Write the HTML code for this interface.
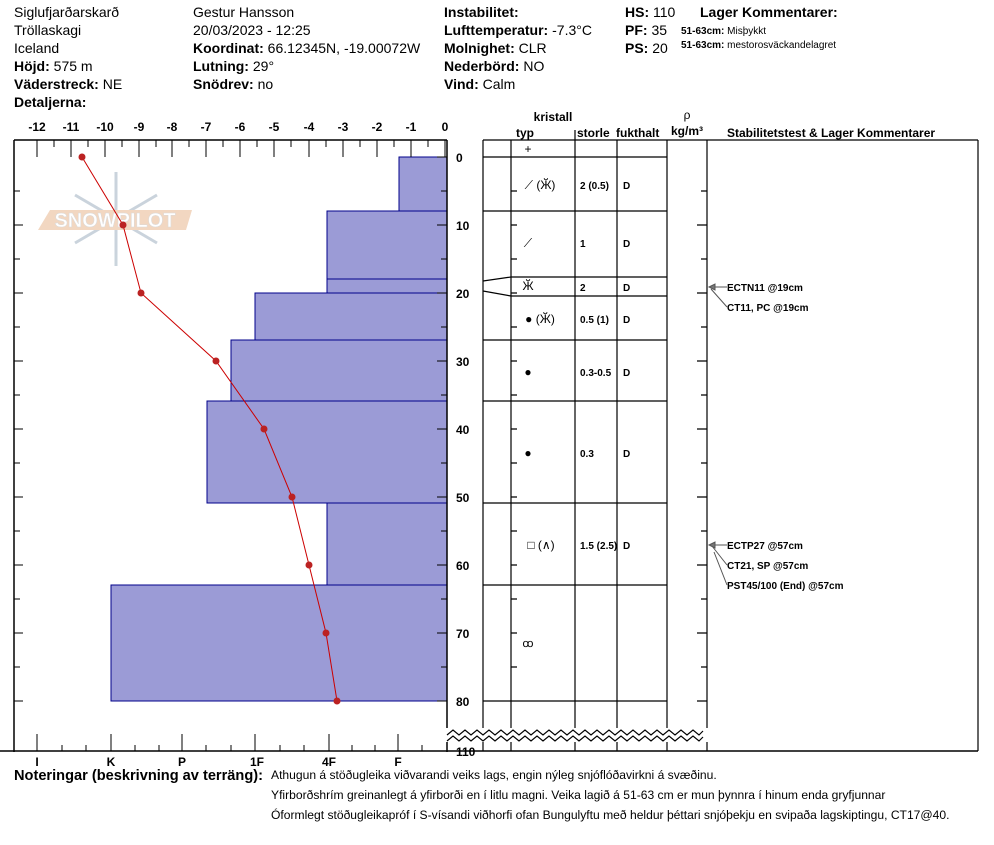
<!DOCTYPE html>
<html><head><meta charset="utf-8"><style>
body{margin:0;background:#fff;width:994px;height:840px;overflow:hidden}
svg{font-family:"Liberation Sans",Arial,sans-serif}
.h{font-size:14px}
.b{font-weight:bold}
.t{font-size:12px;font-weight:bold}
.s{font-size:10px;font-weight:bold}
</style></head><body>
<svg width="994" height="840" xmlns="http://www.w3.org/2000/svg">
<g class="h" fill="#000">
<text x="14" y="17">Siglufjarðarskarð</text>
<text x="14" y="35">Tröllaskagi</text>
<text x="14" y="53">Iceland</text>
<text x="14" y="71"><tspan class="b">Höjd:</tspan> 575 m</text>
<text x="14" y="89"><tspan class="b">Väderstreck:</tspan> NE</text>
<text x="14" y="107" class="b">Detaljerna:</text>
<text x="193" y="17">Gestur Hansson</text>
<text x="193" y="35">20/03/2023 - 12:25</text>
<text x="193" y="53"><tspan class="b">Koordinat:</tspan> 66.12345N, -19.00072W</text>
<text x="193" y="71"><tspan class="b">Lutning:</tspan> 29°</text>
<text x="193" y="89"><tspan class="b">Snödrev:</tspan> no</text>
<text x="444" y="17" class="b">Instabilitet:</text>
<text x="444" y="35"><tspan class="b">Lufttemperatur:</tspan> -7.3°C</text>
<text x="444" y="53"><tspan class="b">Molnighet:</tspan> CLR</text>
<text x="444" y="71"><tspan class="b">Nederbörd:</tspan> NO</text>
<text x="444" y="89"><tspan class="b">Vind:</tspan>  Calm</text>
<text x="625" y="17"><tspan class="b">HS:</tspan> 110</text>
<text x="625" y="35"><tspan class="b">PF:</tspan> 35</text>
<text x="625" y="53"><tspan class="b">PS:</tspan> 20</text>
<text x="700" y="17" class="b">Lager Kommentarer:</text>
</g>
<text x="681" y="34" font-size="10"><tspan font-weight="bold">51-63cm:</tspan>  Misþykkt</text>
<text x="681" y="48" font-size="10"><tspan font-weight="bold">51-63cm:</tspan> mestorosväckandelagret</text>

<!-- logo -->
<g opacity="0.55">
<g stroke="#9fb0c0" stroke-width="3" fill="none">
<line x1="116" y1="172" x2="116" y2="266"/><line x1="75" y1="195" x2="157" y2="243"/><line x1="75" y1="243" x2="157" y2="195"/>
</g>
<polygon points="50,210 192,210 186,230 38,230" fill="#e8b890"/>
<text x="115" y="227" font-size="20" text-anchor="middle" fill="#fff" stroke="#bbb" stroke-width="0.5" font-weight="bold">SNOWPILOT</text>
</g>

<!-- bars -->
<g fill="#9b9bd6" stroke="#00008b" stroke-width="1">
<rect x="399" y="157" width="48" height="54"/>
<rect x="327" y="211" width="120" height="68"/>
<rect x="327" y="279" width="120" height="14"/>
<rect x="255" y="293" width="192" height="47"/>
<rect x="231" y="340" width="216" height="61"/>
<rect x="207" y="401" width="240" height="102"/>
<rect x="327" y="503" width="120" height="82"/>
<rect x="111" y="585" width="336" height="116"/>
</g>
<!-- temp -->
<polyline points="82,157 123,225 141,293 216,361 264,429 292,497 309,565 326,633 337,701" fill="none" stroke="#c00" stroke-width="1"/>
<g fill="#b22">
<circle cx="82" cy="157" r="3.5"/><circle cx="123" cy="225" r="3.5"/><circle cx="141" cy="293" r="3.5"/><circle cx="216" cy="361" r="3.5"/><circle cx="264" cy="429" r="3.5"/><circle cx="292" cy="497" r="3.5"/><circle cx="309" cy="565" r="3.5"/><circle cx="326" cy="633" r="3.5"/><circle cx="337" cy="701" r="3.5"/>
</g>

<!-- left frame -->
<g stroke="#000" stroke-width="1.5" fill="none">
<line x1="14" y1="140" x2="447" y2="140"/>
<line x1="14" y1="140" x2="14" y2="752"/>
<line x1="447" y1="140" x2="447" y2="728"/>
<line x1="447" y1="742" x2="447" y2="752"/>
<line x1="0" y1="751" x2="978" y2="751"/>
</g>
<g stroke="#000" stroke-width="1">
<path d="M37 140V157M71 140V157M105 140V157M139 140V157M172 140V157M206 140V157M240 140V157M274 140V157M309 140V157M343 140V157M377 140V157M411 140V157M445 140V157M54 140V147M88 140V147M122 140V147M156 140V147M189 140V147M223 140V147M257 140V147M291 140V147M326 140V147M360 140V147M394 140V147M428 140V147"/>
<path d="M37 751V734M111 751V734M182 751V734M255 751V734M329 751V734M398 751V734M62 751V745M86 751V745M135 751V745M159 751V745M206 751V745M231 751V745M280 751V745M304 751V745M352 751V745M375 751V745M422 751V745"/>
<path d="M14 191H20M14 225H23M14 259H20M14 293H23M14 327H20M14 361H23M14 395H20M14 429H23M14 463H20M14 497H23M14 531H20M14 565H23M14 599H20M14 633H23M14 667H20M14 701H23"/>
<path d="M447 191H441M447 225H437M447 259H441M447 293H437M447 327H441M447 361H437M447 395H441M447 429H437M447 463H441M447 497H437M447 531H441M447 565H437M447 599H441M447 633H437M447 667H441M447 701H437M447 157H437"/>
</g>
<g class="t" text-anchor="middle">
<text x="37" y="131">-12</text><text x="71" y="131">-11</text><text x="105" y="131">-10</text><text x="139" y="131">-9</text><text x="172" y="131">-8</text><text x="206" y="131">-7</text><text x="240" y="131">-6</text><text x="274" y="131">-5</text><text x="309" y="131">-4</text><text x="343" y="131">-3</text><text x="377" y="131">-2</text><text x="411" y="131">-1</text><text x="445" y="131">0</text>
<text x="37" y="766">I</text><text x="111" y="766">K</text><text x="182" y="766">P</text><text x="257" y="766">1F</text><text x="329" y="766">4F</text><text x="398" y="766">F</text>
</g>
<g class="t">
<text x="456" y="162">0</text><text x="456" y="230">10</text><text x="456" y="298">20</text><text x="456" y="366">30</text><text x="456" y="434">40</text><text x="456" y="502">50</text><text x="456" y="570">60</text><text x="456" y="638">70</text><text x="456" y="706">80</text><text x="456" y="756">110</text>
</g>

<!-- table -->
<g stroke="#000" stroke-width="1.2" fill="none">
<line x1="483" y1="140" x2="978" y2="140"/>
<line x1="978" y1="140" x2="978" y2="751"/>
<line x1="483" y1="140" x2="483" y2="728"/><line x1="483" y1="742" x2="483" y2="751"/>
<line x1="511" y1="140" x2="511" y2="728"/><line x1="511" y1="742" x2="511" y2="751"/>
<line x1="575" y1="130" x2="575" y2="728"/><line x1="575" y1="742" x2="575" y2="751"/>
<line x1="617" y1="140" x2="617" y2="728"/><line x1="617" y1="742" x2="617" y2="751"/>
<line x1="667" y1="140" x2="667" y2="728"/><line x1="667" y1="742" x2="667" y2="751"/>
<line x1="707" y1="140" x2="707" y2="728"/><line x1="707" y1="742" x2="707" y2="751"/>
<path d="M483 157H667M511 211H667M511 277H667M511 296H667M511 340H667M511 401H667M511 503H667M511 585H667M511 701H667"/>
<path d="M483 211H511M483 340H511M483 401H511M483 503H511M483 585H511M483 701H511"/>
<path d="M483 281L511 277M483 291L511 296"/>
<path d="M511 191H517M511 225H517M511 259H517M511 293H517M511 327H517M511 361H517M511 395H517M511 429H517M511 463H517M511 497H517M511 531H517M511 565H517M511 599H517M511 633H517M511 667H517"/>
<path d="M707 191H701M707 225H697M707 259H701M707 293H697M707 327H701M707 361H697M707 395H701M707 429H697M707 463H701M707 497H697M707 531H701M707 565H697M707 599H701M707 633H697M707 667H701M707 701H697"/>
</g>
<rect x="446" y="729" width="262" height="12" fill="#fff"/>
<g stroke="#000" stroke-width="1.2" fill="none">
<path d="M447 735 l6 -5 l6 5 l6 -5 l6 5 l6 -5 l6 5 l6 -5 l6 5 l6 -5 l6 5 l6 -5 l6 5 l6 -5 l6 5 l6 -5 l6 5 l6 -5 l6 5 l6 -5 l6 5 l6 -5 l6 5 l6 -5 l6 5 l6 -5 l6 5 l6 -5 l6 5 l6 -5 l6 5 l6 -5 l6 5 l6 -5 l6 5 l6 -5 l6 5 l6 -5 l6 5 l6 -5 l6 5 l6 -5 l6 5 l4 -4"/>
<path d="M447 741 l6 -5 l6 5 l6 -5 l6 5 l6 -5 l6 5 l6 -5 l6 5 l6 -5 l6 5 l6 -5 l6 5 l6 -5 l6 5 l6 -5 l6 5 l6 -5 l6 5 l6 -5 l6 5 l6 -5 l6 5 l6 -5 l6 5 l6 -5 l6 5 l6 -5 l6 5 l6 -5 l6 5 l6 -5 l6 5 l6 -5 l6 5 l6 -5 l6 5 l6 -5 l6 5 l6 -5 l6 5 l6 -5 l6 5 l4 -4"/>
</g>
<g class="t">
<text x="553" y="121" text-anchor="middle">kristall</text>
<text x="516" y="137">typ</text>
<text x="577" y="137">storle</text>
<text x="616" y="137">fukthalt</text>
<text x="687" y="119" text-anchor="middle" font-weight="normal">ρ</text>
<text x="687" y="135" text-anchor="middle">kg/m³</text>
<text x="727" y="137">Stabilitetstest &amp; Lager Kommentarer</text>
</g>
<g font-size="12" text-anchor="middle">
<text x="528" y="153">+</text>
<text x="540" y="189">⟋ (Ӂ)</text>
<text x="528" y="247">⟋</text>
<text x="528" y="290">Ӂ</text>
<text x="540" y="323">● (Ӂ)</text>
<text x="528" y="376">●</text>
<text x="528" y="457">●</text>
<text x="541" y="549">□ (∧)</text>
<text x="528" y="647" font-size="11">ꝏ</text>
</g>
<g class="s">
<text x="580" y="189">2 (0.5)</text><text x="623" y="189">D</text>
<text x="580" y="247">1</text><text x="623" y="247">D</text>
<text x="580" y="291">2</text><text x="623" y="291">D</text>
<text x="580" y="323">0.5 (1)</text><text x="623" y="323">D</text>
<text x="580" y="376">0.3-0.5</text><text x="623" y="376">D</text>
<text x="580" y="457">0.3</text><text x="623" y="457">D</text>
<text x="580" y="549">1.5 (2.5)</text><text x="623" y="549">D</text>
<text x="727" y="291">ECTN11 @19cm</text>
<text x="727" y="311">CT11, PC @19cm</text>
<text x="727" y="549">ECTP27 @57cm</text>
<text x="727" y="569">CT21, SP @57cm</text>
<text x="727" y="589">PST45/100 (End) @57cm</text>
</g>
<g stroke="#555" stroke-width="1" fill="#777">
<path d="M727 287H712M727 307L711 289M727 545H712M727 565L712 546M727 585L714 552" fill="none"/>
<polygon points="709,287 715,284 715,290"/><polygon points="709,545 715,542 715,548"/>
</g>
<text x="14" y="780" font-size="14.6" font-weight="bold">Noteringar (beskrivning av terräng):</text>
<g font-size="12.1">
<text x="271" y="779">Athugun á stöðugleika viðvarandi veiks lags, engin nýleg snjóflóðavirkni á svæðinu.</text>
<text x="271" y="799">Yfirborðshrím greinanlegt á yfirborði en í litlu magni. Veika lagið á 51-63 cm er mun þynnra í hinum enda gryfjunnar</text>
<text x="271" y="819">Óformlegt stöðugleikapróf í S-vísandi viðhorfi ofan Bungulyftu með heldur þéttari snjóþekju en svipaða lagskiptingu, CT17@40.</text>
</g>
</svg>
</body></html>
